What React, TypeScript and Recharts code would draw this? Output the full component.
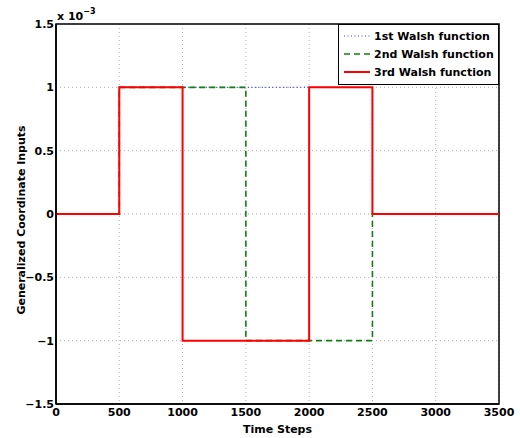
import {
  LineChart,
  Line,
  XAxis,
  YAxis,
  CartesianGrid,
  Legend,
  ReferenceArea,
} from "recharts";

// breakpoints of the three Walsh functions (values in units of 1e-3)
const timeSteps = [0, 500, 1000, 1500, 2000, 2500, 3500];
const walsh1 = [0, 1, 1, 1, 1, 0, 0];
const walsh2 = [0, 1, 1, -1, -1, 0, 0];
const walsh3 = [0, 1, -1, -1, 1, 0, 0];

const xTicks = [0, 500, 1000, 1500, 2000, 2500, 3000, 3500];
const yTicks = [-1.5, -1, -0.5, 0, 0.5, 1, 1.5];

const seriesInfo = [
  { key: "w1", name: "1st Walsh function", color: "#3b3bf5", dash: "1 2.5", width: 1.2 },
  { key: "w2", name: "2nd Walsh function", color: "#108010", dash: "6 4", width: 1.6 },
  { key: "w3", name: "3rd Walsh function", color: "#ff0000", dash: undefined, width: 2 },
];

const data = timeSteps.map((t, i) => ({
  t,
  w1: walsh1[i],
  w2: walsh2[i],
  w3: walsh3[i],
}));

const font = "'DejaVu Sans', Verdana, sans-serif";
const fs = 11;

const fmtY = (v: number) => String(v).replace("-", "\u2212");

const LegendBox = () => (
  <div
    style={{
      border: "1.5px solid #000",
      background: "#fff",
      padding: "2px 4px 3px 4px",
      fontFamily: font,
      fontWeight: 700,
      fontSize: fs,
      color: "#000",
      boxSizing: "border-box",
    }}
  >
    {seriesInfo.map((s) => (
      <div
        key={s.key}
        style={{ display: "flex", alignItems: "center", height: 18 }}
      >
        <svg width={28} height={10} style={{ marginRight: 3 }}>
          <line
            x1={1}
            y1={5}
            x2={27}
            y2={5}
            stroke={s.color}
            strokeWidth={s.width}
            strokeDasharray={s.dash}
          />
        </svg>
        <span>{s.name}</span>
      </div>
    ))}
  </div>
);

export default function App() {
  return (
    <div
      style={{
        position: "absolute",
        left: 0,
        top: 0,
        width: 520,
        height: 438,
        background: "#fff",
      }}
    >
      <LineChart
        width={520}
        height={438}
        data={data}
        margin={{ top: 24, right: 21, left: 0, bottom: 0 }}
      >
        <CartesianGrid
          stroke="#b0b0b0"
          strokeDasharray="1 3"
          horizontalValues={yTicks}
          verticalValues={xTicks}
        />
        <XAxis
          dataKey="t"
          type="number"
          domain={[0, 3500]}
          ticks={xTicks}
          interval={0}
          height={34}
          axisLine={{ stroke: "#000", strokeWidth: 1.5 }}
          tickLine={false}
          tick={{ fill: "#000", fontSize: fs, fontWeight: 700, fontFamily: font }}
          tickMargin={0}
          tickSize={4}
          label={{
            value: "Time Steps",
            position: "insideBottom",
            offset: 5,
            fill: "#000",
            fontSize: fs,
            fontWeight: 700,
            fontFamily: font,
          }}
        />
        <YAxis
          type="number"
          domain={[-1.5, 1.5]}
          ticks={yTicks}
          interval={0}
          width={56}
          tickFormatter={fmtY}
          axisLine={{ stroke: "#000", strokeWidth: 1.5 }}
          tickLine={false}
          tick={{ fill: "#000", fontSize: fs, fontWeight: 700, fontFamily: font }}
          tickMargin={0}
          tickSize={2}
          label={{
            content: () => (
              <g fontFamily={font} fontWeight={700} fill="#000">
                <text
                  transform="translate(25,220) rotate(-90)"
                  textAnchor="middle"
                  fontSize={fs}
                >
                  Generalized Coordinate Inputs
                </text>
                <text x={57} y={20} fontSize={fs}>
                  x 10
                  <tspan dy={-6} fontSize={8}>
                    {"\u22123"}
                  </tspan>
                </text>
              </g>
            ),
          }}
        />
        <ReferenceArea
          x1={0}
          x2={3500}
          y1={-1.5}
          y2={1.5}
          fill="none"
          stroke="#000"
          strokeWidth={1.5}
          ifOverflow="visible"
        />
        {seriesInfo.map((s) => (
          <Line
            key={s.key}
            dataKey={s.key}
            name={s.name}
            type="stepAfter"
            stroke={s.color}
            strokeWidth={s.width}
            strokeDasharray={s.dash}
            dot={false}
            activeDot={false}
            isAnimationActive={false}
          />
        ))}
        <Legend
          layout="vertical"
          align="center"
          verticalAlign="middle"
          wrapperStyle={{ left: 338, top: 24, width: 161 }}
          content={() => <LegendBox />}
        />
      </LineChart>
    </div>
  );
}
